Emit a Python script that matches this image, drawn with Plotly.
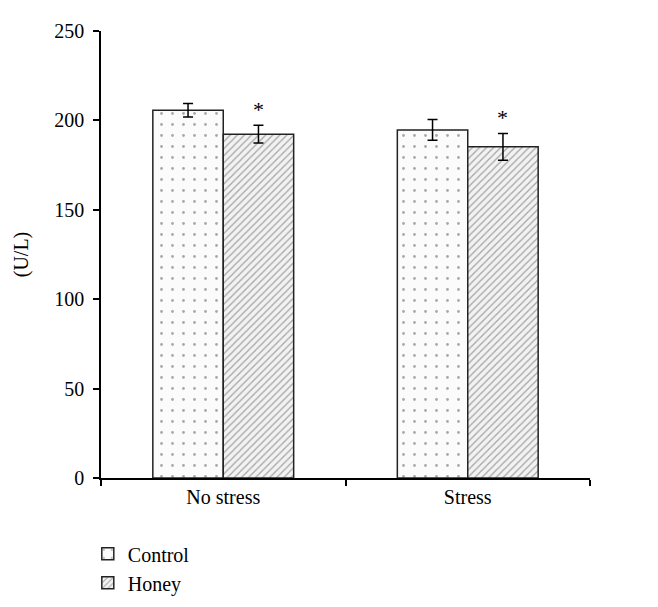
import plotly.graph_objects as go

categories = ["No stress", "Stress"]
control_vals = [205.7, 194.7]
control_err = [3.8, 5.8]
honey_vals = [192.3, 185.2]
honey_err = [5.0, 7.5]
y_ticks = [0, 50, 100, 150, 200, 250]

FONT = "Liberation Serif"

fig = go.Figure()
fig.add_trace(go.Bar(
    name="Control", x=categories, y=control_vals,
    error_y=dict(type="data", array=control_err, color="black", thickness=1.5, width=5),
    marker=dict(color="white", line=dict(color="#222", width=1.5),
                pattern=dict(shape=".", fgcolor="#555", bgcolor="#fbfbfb", size=11, solidity=0.05)),
))
fig.add_trace(go.Bar(
    name="Honey", x=categories, y=honey_vals,
    error_y=dict(type="data", array=honey_err, color="black", thickness=1.5, width=5),
    marker=dict(color="white", line=dict(color="#222", width=1.5),
                pattern=dict(shape="/", fgcolor="#555", bgcolor="#f2f2f2", size=5, solidity=0.25)),
))

for c, v, e in zip(categories, honey_vals, honey_err):
    fig.add_annotation(x=c, y=v + e, text="*", showarrow=False, xshift=35, yshift=1,
                       yanchor="bottom", font=dict(family=FONT, size=22, color="black"))

fig.update_layout(
    width=658, height=607,
    margin=dict(l=92, r=76, t=15, b=137),
    plot_bgcolor="white", paper_bgcolor="white",
    barmode="group", bargap=0.424, bargroupgap=0,
    font=dict(family=FONT, size=20, color="black"),
    showlegend=True,
    legend=dict(x=-0.027, y=-0.126, xanchor="left", yanchor="top", orientation="v",
                font=dict(family=FONT, size=20), itemwidth=30, tracegroupgap=0,
                bgcolor="rgba(0,0,0,0)"),
    xaxis=dict(type="category", range=[-0.5, 1.5], showline=True, linecolor="black", linewidth=1.5,
               ticks="outside", tickson="boundaries", ticklen=6, tickwidth=1.5, tickcolor="black",
               showgrid=False, zeroline=False, tickfont=dict(family=FONT, size=20)),
    yaxis=dict(range=[0, 250], tickvals=y_ticks, showline=True, linecolor="black", linewidth=1.5,
               ticks="outside", ticklen=6, tickwidth=1.5, tickcolor="black", showgrid=False,
               ticklabelstandoff=5,
               zeroline=False, title=dict(text="(U/L)", font=dict(family=FONT, size=20), standoff=20),
               tickfont=dict(family=FONT, size=20)),
)

fig.write_html("out.html")
